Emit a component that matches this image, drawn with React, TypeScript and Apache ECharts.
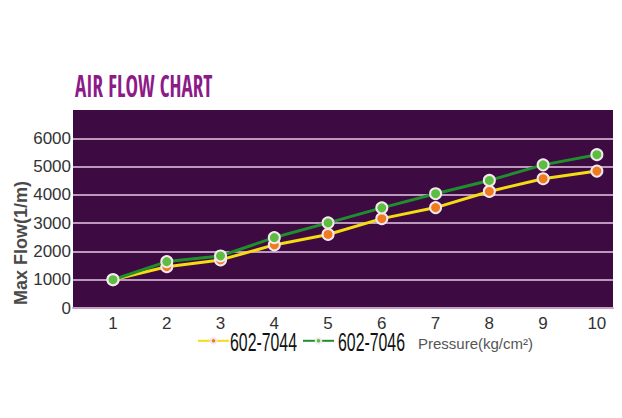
import React, { useEffect, useRef } from "react";
import * as echarts from "echarts";

const pressures = [1, 2, 3, 4, 5, 6, 7, 8, 9, 10];
const flow7044 = [1000, 1460, 1700, 2230, 2600, 3160, 3550, 4120, 4570, 4840];
const flow7046 = [1000, 1640, 1840, 2490, 3010, 3540, 4040, 4510, 5060, 5420];
const yTicks = [0, 1000, 2000, 3000, 4000, 5000, 6000];
const seriesNames = ["602-7044", "602-7046"];

export default function App() {
  const ref = useRef<HTMLDivElement>(null);
  useEffect(() => {
    if (!ref.current) return;
    const chart = echarts.init(ref.current, null, { renderer: "svg" });
    const pair = (vals: number[]) => pressures.map((p, i) => [p, vals[i]]);
    const legendLefts = [197, 302];
    const legendTextX = [230, 338];
    chart.setOption({
      animation: false,
      backgroundColor: "#ffffff",
      grid: {
        left: 73,
        right: 9,
        top: 110,
        bottom: 110,
        show: true,
        backgroundColor: "#3d0a42",
        borderWidth: 0,
      },
      xAxis: {
        type: "value",
        min: 0.256,
        max: 10.3,
        axisLine: { show: true, lineStyle: { color: "#c4a2c4", width: 2 } },
        axisTick: { show: false },
        splitLine: { show: false },
        axisLabel: {
          customValues: pressures,
          color: "#333333",
          fontSize: 17,
          fontFamily: "Liberation Sans, Arial, sans-serif",
          margin: 7,
        },
      },
      yAxis: {
        type: "value",
        min: 0,
        max: 7000,
        interval: 1000,
        axisLine: { show: false },
        axisTick: { show: false },
        axisLabel: {
          customValues: yTicks,
          formatter: (v: number) => String(v),
          color: "#333333",
          fontSize: 17,
          fontFamily: "Liberation Sans, Arial, sans-serif",
          margin: 2,
        },
        splitLine: {
          show: true,
          showMinLine: false,
          showMaxLine: false,
          lineStyle: { color: "#bc98bc", width: 2 },
        },
      },
      legend: seriesNames.map((name, i) => ({
        left: legendLefts[i],
        top: 337,
        padding: 0,
        itemWidth: 31,
        itemHeight: 7,
        data: [name],
        formatter: () => "",
        textStyle: { fontSize: 10, padding: 0 },
      })),
      graphic: [
        ...seriesNames.map((name, i) => ({
          type: "text",
          x: legendTextX[i],
          y: 343,
          scaleX: 0.61,
          style: {
            text: name,
            fill: "#111111",
            fontSize: 26,
            fontFamily: "Liberation Sans, Arial, sans-serif",
            textVerticalAlign: "middle",
          },
        })),
        {
          type: "text",
          x: 75,
          y: 85,
          scaleX: 0.68,
          style: {
            text: "AIR FLOW CHART",
            fill: "#8c1a88",
            fontSize: 31,
            fontWeight: "bold",
            fontFamily: "Open Sans Condensed",
            textVerticalAlign: "middle",
          },
        },
        {
          type: "text",
          x: 21,
          y: 243,
          rotation: Math.PI / 2,
          style: {
            text: "Max Flow(1/m)",
            fill: "#4a4a4a",
            fontSize: 18,
            fontWeight: "bold",
            fontFamily: "Liberation Sans, Arial, sans-serif",
            textAlign: "center",
            textVerticalAlign: "middle",
          },
        },
        {
          type: "text",
          x: 418,
          y: 343,
          style: {
            text: "Pressure(kg/cm²)",
            fill: "#555555",
            fontSize: 15,
            fontFamily: "Liberation Sans, Arial, sans-serif",
            textVerticalAlign: "middle",
          },
        },
      ],
      series: [
        {
          name: seriesNames[0],
          type: "line",
          data: pair(flow7044),
          symbol: "circle",
          symbolSize: 11,
          lineStyle: { color: "#f5dc12", width: 3 },
          itemStyle: { color: "#f07a1e", borderColor: "#f4e8f0", borderWidth: 2 },
          z: 2,
        },
        {
          name: seriesNames[1],
          type: "line",
          data: pair(flow7046),
          symbol: "circle",
          symbolSize: 11,
          lineStyle: { color: "#1f8f2e", width: 3 },
          itemStyle: { color: "#5cbd3e", borderColor: "#f4e8f0", borderWidth: 2 },
          z: 3,
        },
      ],
    });
    return () => chart.dispose();
  }, []);
  return (
    <div
      ref={ref}
      style={{ position: "fixed", left: 0, top: 0, width: 622, height: 418 }}
    />
  );
}
